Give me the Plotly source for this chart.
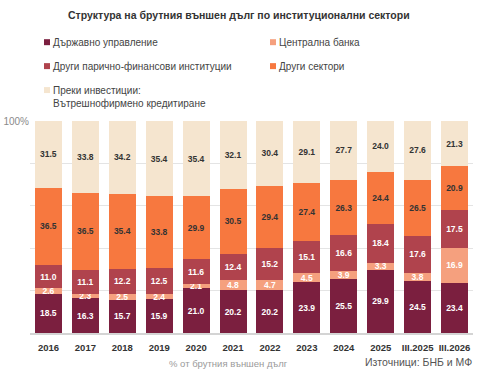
import plotly.graph_objects as go

categories = ["2016", "2017", "2018", "2019", "2020", "2021", "2022", "2023",
              "2024", "2025", "III.2025", "III.2026"]
gov = [18.5, 16.3, 15.7, 15.9, 21.0, 20.2, 20.2, 23.9, 25.5, 29.9, 24.5, 23.4]
cb = [2.6, 2.3, 2.5, 2.4, 2.1, 4.8, 4.7, 4.5, 3.9, 3.3, 3.8, 16.9]
mfi = [11.0, 11.1, 12.2, 12.5, 11.6, 12.4, 15.2, 15.1, 16.6, 18.4, 17.6, 17.5]
other = [36.5, 36.5, 35.4, 33.8, 29.9, 30.5, 29.4, 27.4, 26.3, 24.4, 26.5, 20.9]
fdi = [31.5, 33.8, 34.2, 35.4, 35.4, 32.1, 30.4, 29.1, 27.7, 24.0, 27.6, 21.3]

series = [
    ("Държавно управление", gov, "#7b1f3f", "white"),
    ("Централна банка", cb, "#f5a07e", "white"),
    ("Други парично-финансови институции", mfi, "#b0434d", "white"),
    ("Други сектори", other, "#f7783f", "#333333"),
    ("Преки инвестиции:<br>Вътрешнофирмено кредитиране", fdi, "#f5e5cf", "#333333"),
]

FONT = "Liberation Sans, Arial"

W, H = 478, 370
L, R, T, B = 30, 5, 121, 36.5
PW = W - L - R
PH = H - T - B


def px(x):
    return (x - L) / PW


def py(y):
    return (H - B - y) / PH


fig = go.Figure()
for name, vals, color, tcolor in series:
    fig.add_trace(go.Bar(
        x=categories, y=vals, name=name,
        marker=dict(color=color, line=dict(width=0)),
        text=[f"{v:.1f}" for v in vals],
        textposition="inside", insidetextanchor="middle",
        constraintext="none", textangle=0,
        textfont=dict(family=FONT, size=8.5, color=tcolor, weight="bold"),
        showlegend=False, hoverinfo="skip",
    ))

shapes = []
annotations = []
legend_pos = [(44, 42), (270, 42), (44, 66), (270, 66), (44, 90)]
for (name, vals, color, tcolor), (lx, ly) in zip(series, legend_pos):
    shapes.append(dict(type="rect", xref="paper", yref="paper",
                       x0=px(lx), x1=px(lx + 6), y0=py(ly + 3), y1=py(ly - 3),
                       fillcolor=color, line=dict(width=0)))
    annotations.append(dict(text=name, xref="paper", yref="paper",
                            x=px(lx + 7), y=py(ly - 7.5), xanchor="left", yanchor="top",
                            align="left", showarrow=False,
                            font=dict(family=FONT, size=10, color="#444444")))

annotations.append(dict(text="<b>Структура на брутния външен дълг по институционални сектори</b>",
                        xref="paper", yref="paper", x=px(239), y=py(15),
                        xanchor="center", yanchor="middle", showarrow=False,
                        font=dict(family=FONT, size=10.5, color="#333333")))
annotations.append(dict(text="% от брутния външен дълг", xref="paper", yref="paper",
                        x=px(228), y=py(364), xanchor="center", yanchor="middle", showarrow=False,
                        font=dict(family=FONT, size=9.5, color="#9a9a9a")))
annotations.append(dict(text="Източници: БНБ и МФ", xref="paper", yref="paper",
                        x=px(474), y=py(363), xanchor="right", yanchor="middle", showarrow=False,
                        font=dict(family=FONT, size=10.5, color="#555555")))

fig.update_layout(
    width=W, height=H, barmode="stack", bargap=0.27,
    margin=dict(l=L, r=R, t=T, b=B, autoexpand=False),
    paper_bgcolor="white", plot_bgcolor="white",
    shapes=shapes, annotations=annotations,
    font=dict(family=FONT),
)
fig.update_xaxes(
    type="category", showgrid=False, showline=True, linecolor="#d4d4d4", linewidth=2,
    ticks="", tickangle=0, ticklabelstandoff=5,
    tickfont=dict(size=9.5, color="#333333", weight="bold"),
    fixedrange=True,
)
fig.update_yaxes(
    range=[0, 100], tickvals=[0, 20, 40, 60, 80, 100],
    ticktext=["", "", "", "", "", "100%"],
    showgrid=True, gridcolor="#e4e4e4", gridwidth=1, zeroline=False,
    showline=False, ticks="", tickfont=dict(size=10, color="#8a8a8a"),
    fixedrange=True,
)

fig.write_html("out.html", include_plotlyjs=True, config={"displayModeBar": False})
